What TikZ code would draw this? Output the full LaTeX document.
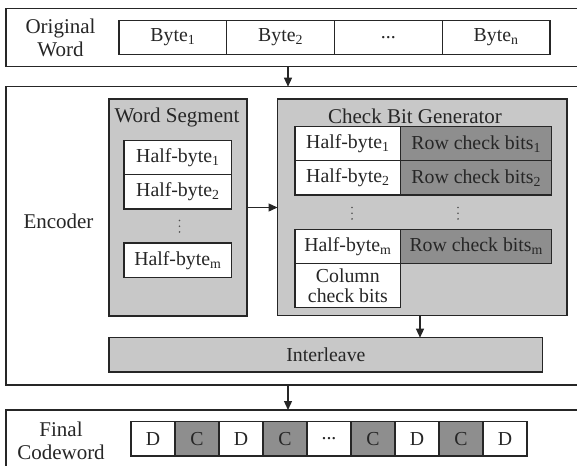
\documentclass[tikz,border=0pt]{standalone}
\usepackage{fontspec}
\setmainfont{Liberation Serif}
\usetikzlibrary{arrows.meta}

\definecolor{ink}{HTML}{262626}
\definecolor{lightfill}{HTML}{C8C8C8}
\definecolor{darkfill}{HTML}{8E8E8E}

\newcommand\labelsize{\fontsize{21}{23}\selectfont}
\newcommand\cellsize{\fontsize{19.8}{19.8}\selectfont}

\begin{document}
\begin{tikzpicture}[x=1pt,y=-1pt,
  every node/.style={inner sep=0pt, outer sep=0pt, text=ink},
  frame/.style={draw=ink, line width=1.5pt, anchor=north west, fill=white},
  panel/.style={draw=ink, line width=1.4pt, anchor=north west, fill=lightfill},
  cell/.style={draw=ink, line width=1.3pt, anchor=north west, fill=white, font=\cellsize, align=center},
  darkcell/.style={cell, fill=darkfill},
  heading/.style={font=\labelsize, align=center},
  dot/.style={fill=ink!80},
  flow/.style={draw=ink, line width=1.3pt, -{Triangle[length=9pt,width=8pt]}},
]
\useasboundingbox (0,0) rectangle (577,465);

% ---------- original word ----------
\node[frame, minimum width=574pt, minimum height=58.4pt] (orig) at (6,8.3) {};
\node[heading] (origlbl) at (60.5,37.5) {Original\\Word};
\node[cell, minimum width=107.75pt, minimum height=33.6pt] (b1) at (119,20.7) {Byte\textsubscript{1}};
\node[cell, minimum width=107.75pt, minimum height=33.6pt] (b2) at (226.75,20.7) {Byte\textsubscript{2}};
\node[cell, minimum width=107.75pt, minimum height=33.6pt] (b3) at (334.5,20.7) {...};
\node[cell, minimum width=107.75pt, minimum height=33.6pt] (b4) at (442.25,20.7) {Byte\textsubscript{n}};

% ---------- encoder ----------
\node[frame, minimum width=574pt, minimum height=298.3pt] (enc) at (6,86.7) {};
\node[heading] (enclbl) at (58.5,221) {Encoder};

% word segment panel
\node[panel, minimum width=138pt, minimum height=217pt] (ws) at (109,99) {};
\node[heading] (wstitle) at (177,117) {Word Segment};
\node[cell, minimum width=107.7pt, minimum height=34pt] (h1) at (124,140.3) {Half-byte\textsubscript{1}};
\node[cell, minimum width=107.7pt, minimum height=34.7pt] (h2) at (124,174.3) {Half-byte\textsubscript{2}};
\node[cell, minimum width=107.7pt, minimum height=34.7pt] (hm) at (124,243) {Half-byte\textsubscript{m}};
% vertical ellipsis between the rows
\foreach \yy in {220.5,226.2,231.9} \fill[dot] (179.5,\yy) circle (0.9);

% check bit generator panel
\node[panel, minimum width=289.5pt, minimum height=216.7pt] (cbg) at (277.5,99) {};
\node[heading] (cbgtitle) at (415,116) {Check Bit Generator};
\node[cell, minimum width=105.7pt, minimum height=34pt] (g1) at (295,126.7) {Half-byte\textsubscript{1}};
\node[darkcell, minimum width=151pt, minimum height=34pt] (r1) at (400.7,126.7) {Row check bits\textsubscript{1}};
\node[cell, minimum width=105.7pt, minimum height=34.3pt] (g2) at (295,160.7) {Half-byte\textsubscript{2}};
\node[darkcell, minimum width=151pt, minimum height=34.3pt] (r2) at (400.7,160.7) {Row check bits\textsubscript{2}};
\node[cell, minimum width=105.7pt, minimum height=34pt] (gm) at (295,229.3) {Half-byte\textsubscript{m}};
\node[darkcell, minimum width=151pt, minimum height=34pt] (rm) at (400.7,229.3) {Row check bits\textsubscript{m}};
\node[cell, minimum width=105.7pt, minimum height=44.4pt] (col) at (295,263.3) {Column\\check bits};
\foreach \yy in {207.5,213.2,218.9} {
  \fill[dot] (352,\yy) circle (0.9);
  \fill[dot] (458,\yy) circle (0.9);
}

% interleave bar
\node[panel, minimum width=433.7pt, minimum height=34.3pt, font=\cellsize] (inter) at (109,337.7) {Interleave};

% ---------- final codeword ----------
\node[frame, minimum width=574pt, minimum height=60pt] (final) at (6,410) {};
\node[heading] (finallbl) at (61,440.5) {Final\\Codeword};
\node[cell, minimum width=44pt, minimum height=34.3pt] (c1) at (131,421.7) {D};
\node[darkcell, minimum width=44pt, minimum height=34.3pt] (c2) at (175,421.7) {C};
\node[cell, minimum width=44pt, minimum height=34.3pt] (c3) at (219,421.7) {D};
\node[darkcell, minimum width=44pt, minimum height=34.3pt] (c4) at (263,421.7) {C};
\node[cell, minimum width=44pt, minimum height=34.3pt] (c5) at (307,421.7) {...};
\node[darkcell, minimum width=44pt, minimum height=34.3pt] (c6) at (351,421.7) {C};
\node[cell, minimum width=44pt, minimum height=34.3pt] (c7) at (395,421.7) {D};
\node[darkcell, minimum width=44pt, minimum height=34.3pt] (c8) at (439,421.7) {C};
\node[cell, minimum width=44pt, minimum height=34.3pt] (c9) at (483,421.7) {D};

% ---------- connectors ----------
\coordinate (mainx) at (288,0);
\coordinate (cbgx) at (420,0);
\draw[flow] (orig.south -| mainx) -- (enc.north -| mainx);
\draw[flow] (ws.east) -- (cbg.west |- ws.east);
\draw[flow] (cbg.south -| cbgx) -- (inter.north -| cbgx);
\draw[flow] (enc.south -| mainx) -- (final.north -| mainx);
\end{tikzpicture}
\end{document}
